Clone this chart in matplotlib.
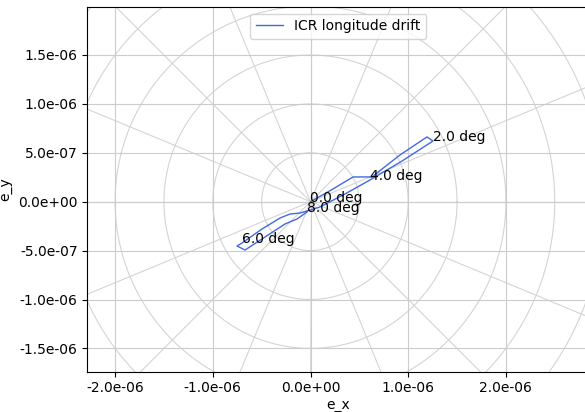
import numpy as np
import matplotlib
matplotlib.use("Agg")
import matplotlib.pyplot as plt
from matplotlib.ticker import FormatStrFormatter, MultipleLocator

# Eccentricity vector trace (units of 1e-6)
e_x = [0.000, 0.230, 0.435, 0.629, 0.916, 1.192, 1.254, 0.937, 0.609, 0.353, 0.097,
       -0.107, -0.210, -0.312, -0.496, -0.701, -0.752, -0.670, -0.435, -0.261, -0.138, -0.036]
e_y = [0.000, 0.130, 0.253, 0.253, 0.478, 0.662, 0.621, 0.416, 0.222, 0.079, -0.054,
       -0.116, -0.126, -0.167, -0.279, -0.422, -0.453, -0.494, -0.341, -0.228, -0.177, -0.105]
label_idx = [0, 6, 8, 15, 21]
labels = ["0.0 deg", "2.0 deg", "4.0 deg", "6.0 deg", "8.0 deg"]
scale = 1e-6

ex = np.array(e_x) * scale
ey = np.array(e_y) * scale

W, H = 585, 412
fig = plt.figure(figsize=(W / 100, H / 100), dpi=100)
left_px, right_px, top_px, bot_px = 87.3, 589.0, 6.7, 371.7
ax = fig.add_axes([left_px / W, (H - bot_px) / H, (right_px - left_px) / W, (bot_px - top_px) / H])

# limits from pixel mapping (0 at 310.5/201.7, 97.7 px per 1e-6)
ax.set_xlim((left_px - 310.5) / 97.7 * 1e-6, (right_px - 310.5) / 97.7 * 1e-6)
ax.set_ylim((201.7 - bot_px) / 97.8 * 1e-6, (201.7 - top_px) / 97.8 * 1e-6)

# polar-style grid overlay
gcol = '#d4d4d4'
t = np.linspace(0, 2 * np.pi, 400)
for r in np.arange(0.5, 4.01, 0.5) * scale:
    ax.plot(r * np.cos(t), r * np.sin(t), color=gcol, lw=0.8, zorder=0.5)
R = 5e-6
for a in np.arange(0, 360, 22.5):
    ar = np.deg2rad(a)
    ax.plot([0, R * np.cos(ar)], [0, R * np.sin(ar)], color=gcol, lw=0.8, zorder=0.5)

ax.grid(True, color='#cccccc', lw=0.8, zorder=0.4)
ax.set_axisbelow(True)

ax.plot(ex, ey, color='royalblue', lw=1.0, label='ICR longitude drift', zorder=3)
for i, lab in zip(label_idx, labels):
    ax.annotate(lab, (ex[i], ey[i]), fontsize=10, zorder=4)

ax.xaxis.set_major_locator(MultipleLocator(1e-6))
ax.yaxis.set_major_locator(MultipleLocator(5e-7))
ax.xaxis.set_major_formatter(FormatStrFormatter('%.1e'))
ax.yaxis.set_major_formatter(FormatStrFormatter('%.1e'))
ax.tick_params(labelsize=10)
ax.set_xlabel('e_x', fontsize=10, labelpad=2)
ax.set_ylabel('e_y', fontsize=10)
ax.legend(loc='upper center', fontsize=10)

fig.savefig('out.png', dpi=100)
